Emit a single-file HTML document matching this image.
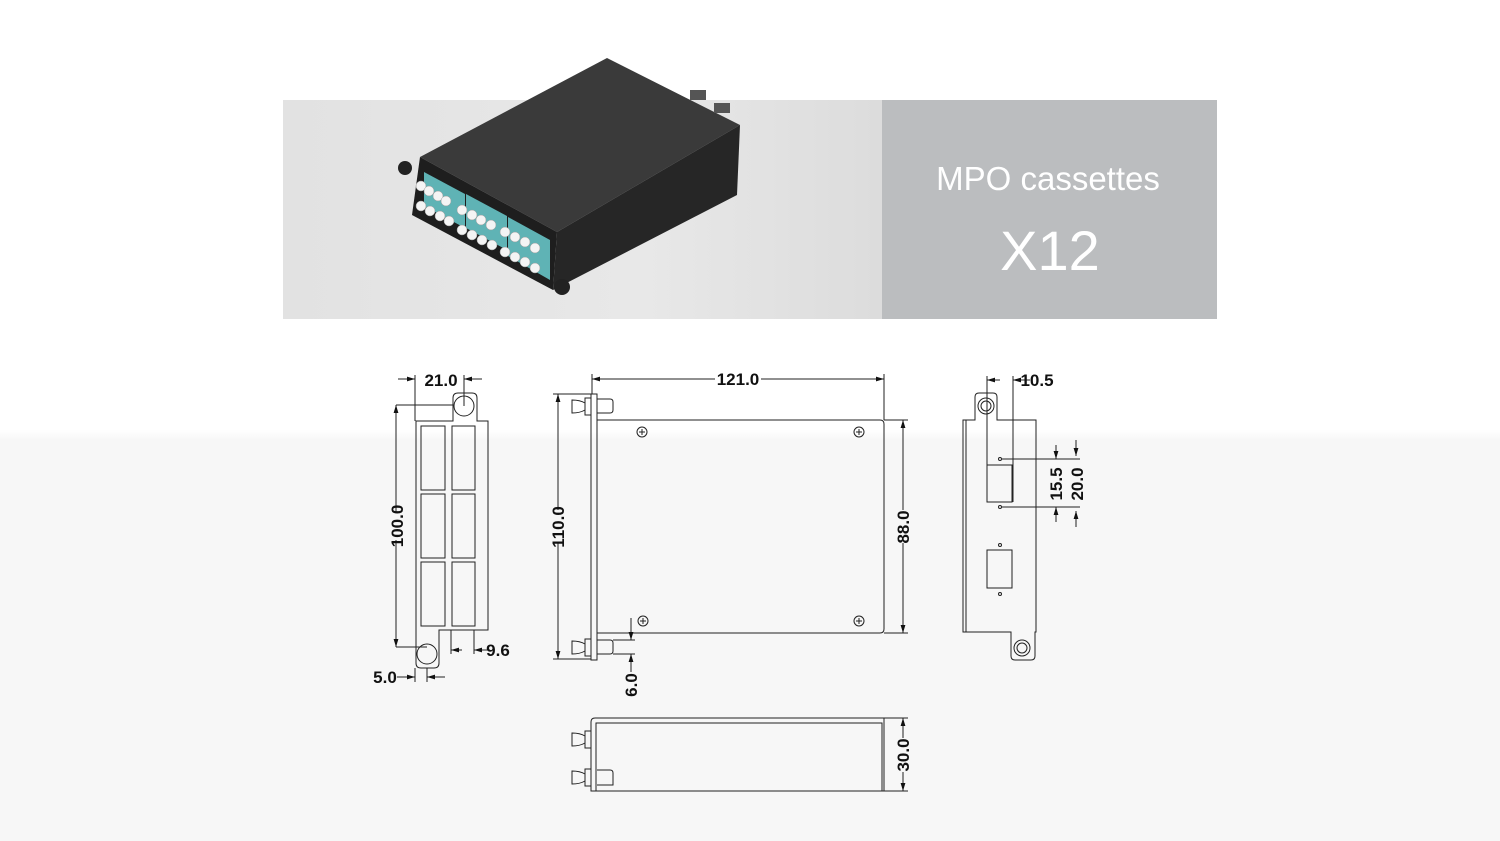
<!DOCTYPE html>
<html><head><meta charset="utf-8"><style>
html,body{margin:0;padding:0;}
body{width:1500px;height:841px;overflow:hidden;background:linear-gradient(#fff 0,#fff 430px,#f7f7f7 440px,#f7f7f7 841px);}
svg{display:block}
.d{fill:none;stroke:#222;stroke-width:1}
.t{font-family:"Liberation Sans Narrow","Liberation Sans",sans-serif;font-weight:bold;font-size:17px;fill:#111}
</style></head><body>
<svg width="1500" height="841" viewBox="0 0 1500 841">
<defs>
<linearGradient id="bg" x1="0" y1="0" x2="1" y2="0"><stop offset="0" stop-color="#e2e2e2"/><stop offset="0.6" stop-color="#e8e8e8"/><stop offset="1" stop-color="#dcdcdc"/></linearGradient>
<marker id="a" viewBox="0 0 10 10" refX="10" refY="5" markerWidth="8" markerHeight="8" orient="auto-start-reverse"><path d="M0,2 L10,5 L0,8z" fill="#111"/></marker>
</defs>
<rect x="283" y="100" width="599" height="219" fill="url(#bg)"/>
<rect x="882" y="100" width="335" height="219" fill="#bbbdbf"/>
<text x="1048" y="190" text-anchor="middle" font-family="Liberation Sans,sans-serif" font-size="33" fill="#fff">MPO cassettes</text>
<text x="1050" y="270" text-anchor="middle" font-family="Liberation Sans,sans-serif" font-size="56" fill="#fff" font-weight="300">X12</text>
<!-- product -->
<polygon points="420,157 607,58 740,125 557,232" fill="#3a3a3a"/>
<polygon points="557,232 740,125 737,195 553,290" fill="#262626"/>
<polygon points="420,157 557,232 553,290 412,215" fill="#1e1e1e"/>
<rect x="714" y="103" width="16" height="10" fill="#555"/><rect x="690" y="90" width="16" height="10" fill="#555"/>
<circle cx="405" cy="168" r="7" fill="#222"/><circle cx="562" cy="287" r="8" fill="#222"/>
<g fill="#5fb3b5">
<polygon points="424,172 465,194 465,228 424,206"/>
<polygon points="466,194 507,216 507,250 466,228"/>
<polygon points="508,217 550,240 550,280 508,256"/>
</g>
<g fill="#f4f4f4" stroke="#999" stroke-width="0.5">
<circle cx="421" cy="186" r="5"/><circle cx="429" cy="191" r="5"/><circle cx="438" cy="196" r="5"/><circle cx="446" cy="201" r="5"/>
<circle cx="462" cy="210" r="5"/><circle cx="472" cy="215" r="5"/><circle cx="481" cy="220" r="5"/><circle cx="491" cy="225" r="5"/>
<circle cx="505" cy="232" r="5"/><circle cx="515" cy="237" r="5"/><circle cx="525" cy="242" r="5"/><circle cx="535" cy="248" r="5"/>
<circle cx="421" cy="206" r="5"/><circle cx="430" cy="211" r="5"/><circle cx="440" cy="216" r="5"/><circle cx="449" cy="221" r="5"/>
<circle cx="462" cy="230" r="5"/><circle cx="472" cy="235" r="5"/><circle cx="482" cy="240" r="5"/><circle cx="492" cy="245" r="5"/>
<circle cx="505" cy="252" r="5"/><circle cx="515" cy="257" r="5"/><circle cx="525" cy="262" r="5"/><circle cx="535" cy="268" r="5"/>
</g>
<!-- left view -->
<g class="d">
<path d="M416,421 H453 V398 Q453,393 458,393 H472 Q477,393 477,398 V421 H488 V630 H439 V663 Q439,668 434,668 H421 Q416,668 416,663 Z"/>
<circle cx="464" cy="406" r="10"/><circle cx="427" cy="654" r="10"/>
<rect x="421" y="426" width="24" height="64"/><rect x="452" y="426" width="23" height="64"/>
<rect x="421" y="494" width="24" height="64"/><rect x="452" y="494" width="23" height="64"/>
<rect x="421" y="562" width="24" height="64"/><rect x="452" y="562" width="23" height="64"/>
<path d="M415,375 V421 M464,375 V406 M396,405 H453 M396,647 H427 M451,630 V654 M474,630 V654 M415,668 V682 M427,668 V682"/>
<line x1="398" y1="379" x2="415" y2="379" marker-end="url(#a)"/><line x1="482" y1="379" x2="464" y2="379" marker-end="url(#a)"/>
<line x1="396" y1="512" x2="396" y2="405" marker-end="url(#a)"/><line x1="396" y1="540" x2="396" y2="647" marker-end="url(#a)"/>
<line x1="451" y1="650" x2="462" y2="650" /><line x1="488" y1="650" x2="474" y2="650" marker-end="url(#a)"/><line x1="462" y1="650" x2="451" y2="650" marker-end="url(#a)"/>
<line x1="397" y1="677" x2="415" y2="677" marker-end="url(#a)"/><line x1="445" y1="677" x2="427" y2="677" marker-end="url(#a)"/>
</g>
<text class="t" x="441" y="386" text-anchor="middle">21.0</text>
<text class="t" x="498" y="656" text-anchor="middle">9.6</text>
<text class="t" x="385" y="683" text-anchor="middle">5.0</text>
<text class="t" transform="translate(403,526) rotate(-90)" text-anchor="middle">100.0</text>
<!-- middle view -->
<g class="d">
<rect x="591" y="394" width="6" height="266"/>
<path d="M597,420 H880 Q884,420 884,424 V629 Q884,633 880,633 H597"/>
<path d="M585,398 H591 V415 H585 Z M572,400 Q580,400 585,403 V410 Q580,413 572,413 Z M597,399 H610 Q613,399 613,402 V410 Q613,413 610,413 H597"/>
<path d="M585,639 H591 V656 H585 Z M572,641 Q580,641 585,644 V651 Q580,654 572,654 Z M597,640 H610 Q613,640 613,643 V651 Q613,654 610,654 H597"/>
<circle cx="642" cy="432" r="5"/><circle cx="859" cy="432" r="5"/><circle cx="643" cy="621" r="5"/><circle cx="859" cy="621" r="5"/>
<path d="M639,432 H645 M642,429 V435 M856,432 H862 M859,429 V435 M640,621 H646 M643,618 V624 M856,621 H862 M859,618 V624"/>
<path d="M592,374 V394 M884,374 V420 M553,394 H591 M553,659 H591 M884,420 H908 M884,633 H908 M613,640 H635 M613,654 H635"/>
<line x1="715" y1="379" x2="592" y2="379" marker-end="url(#a)"/><line x1="761" y1="379" x2="884" y2="379" marker-end="url(#a)"/>
<line x1="558" y1="510" x2="558" y2="394" marker-end="url(#a)"/><line x1="558" y1="543" x2="558" y2="659" marker-end="url(#a)"/>
<line x1="903" y1="510" x2="903" y2="420" marker-end="url(#a)"/><line x1="903" y1="543" x2="903" y2="633" marker-end="url(#a)"/>
<line x1="631" y1="618" x2="631" y2="640" marker-end="url(#a)"/><line x1="631" y1="672" x2="631" y2="654" marker-end="url(#a)"/>
</g>
<text class="t" x="738" y="385" text-anchor="middle">121.0</text>
<text class="t" transform="translate(564,527) rotate(-90)" text-anchor="middle">110.0</text>
<text class="t" transform="translate(909,527) rotate(-90)" text-anchor="middle">88.0</text>
<text class="t" transform="translate(637,685) rotate(-90)" text-anchor="middle">6.0</text>
<!-- right view -->
<g class="d">
<path d="M963,420 H975 V397 Q975,393 979,393 H993 Q997,393 997,397 V420 H1036 V632 H1035 V656 Q1035,660 1031,660 H1015 Q1011,660 1011,656 V632 H963 Z"/>
<line x1="966" y1="420" x2="966" y2="632"/>
<circle cx="986" cy="406" r="8"/><circle cx="986" cy="406" r="5"/>
<circle cx="1022" cy="648" r="8"/><circle cx="1022" cy="648" r="5"/>
<rect x="987" y="465" width="25" height="37"/><rect x="987" y="550" width="25" height="38"/>
<circle cx="1000" cy="459" r="1.5"/><circle cx="1000" cy="507" r="1.5"/><circle cx="1000" cy="545" r="1.5"/><circle cx="1000" cy="594" r="1.5"/>
<path d="M987,376 V465 M1013,376 V502 M1002,459 H1080 M1002,507 H1080"/>
<line x1="1000" y1="380" x2="987" y2="380" marker-end="url(#a)"/><line x1="1030" y1="380" x2="1013" y2="380" marker-end="url(#a)"/>
<line x1="1056" y1="445" x2="1056" y2="459" marker-end="url(#a)"/><line x1="1056" y1="522" x2="1056" y2="507" marker-end="url(#a)"/>
<line x1="1076" y1="440" x2="1076" y2="456" marker-end="url(#a)"/><line x1="1076" y1="527" x2="1076" y2="511" marker-end="url(#a)"/>
</g>
<text class="t" x="1037" y="386" text-anchor="middle">10.5</text>
<text class="t" transform="translate(1062,484) rotate(-90)" text-anchor="middle">15.5</text>
<text class="t" transform="translate(1083,484) rotate(-90)" text-anchor="middle">20.0</text>
<!-- bottom view -->
<g class="d">
<path d="M591,791 V722 Q591,718 595,718 H884 V791 Z"/>
<path d="M596,791 V723 H882 V791"/>
<path d="M585,731 H591 V748 H585 Z M572,733 Q580,733 585,736 V743 Q580,746 572,746 Z"/>
<path d="M585,769 H591 V786 H585 Z M572,771 Q580,771 585,774 V781 Q580,784 572,784 Z M597,770 H610 Q613,770 613,773 V785 H597"/>
<path d="M884,718 H908 M884,791 H908"/>
<line x1="903" y1="738" x2="903" y2="718" marker-end="url(#a)"/><line x1="903" y1="772" x2="903" y2="791" marker-end="url(#a)"/>
</g>
<text class="t" transform="translate(909,755) rotate(-90)" text-anchor="middle">30.0</text>
</svg>
</body></html>
